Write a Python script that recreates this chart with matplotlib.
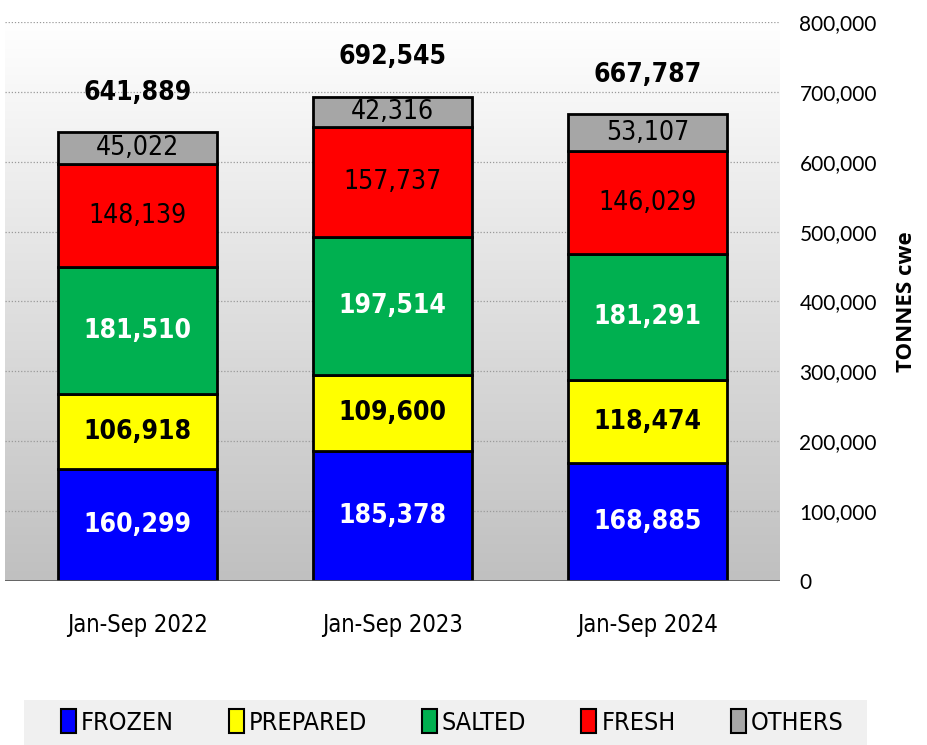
import matplotlib
matplotlib.use("Agg")
import matplotlib.pyplot as plt
import numpy as np
from matplotlib.patches import Patch, Rectangle
from matplotlib.font_manager import FontProperties
from matplotlib.colors import LinearSegmentedColormap

categories = ["Jan-Sep 2022", "Jan-Sep 2023", "Jan-Sep 2024"]
frozen = [160299, 185378, 168885]
prepared = [106918, 109600, 118474]
salted = [181510, 197514, 181291]
fresh = [148139, 157737, 146029]
others = [45022, 42316, 53107]
totals = [641889, 692545, 667787]

series_names = ["FROZEN", "PREPARED", "SALTED", "FRESH", "OTHERS"]
series = [frozen, prepared, salted, fresh, others]
colors = ["#0000ff", "#ffff00", "#00b050", "#ff0000", "#a6a6a6"]
label_colors = ["white", "black", "white", "black", "black"]
label_weights = ["bold", "bold", "bold", "normal", "normal"]

yticks = [0, 100000, 200000, 300000, 400000, 500000, 600000, 700000, 800000]

narrow = ["Liberation Sans Narrow", "DejaVu Sans"]
STR = "condensed"
fig = plt.figure(figsize=(9.28, 7.45), dpi=100)
ax = fig.add_axes([5/928, 1-581/745, (780-5)/928, (581-22)/745])

x = np.arange(len(categories))
ax.set_xlim(-0.52, 2.52)
ax.set_ylim(0, 800000)

grad = np.linspace(0.0, 1.0, 256).reshape(-1, 1)
cmap = LinearSegmentedColormap.from_list("g", ["#c0c0c0", "#ffffff"])
ax.imshow(grad, extent=[-0.52, 2.52, 0, 800000], aspect="auto", cmap=cmap,
          origin="lower", zorder=0, vmin=0, vmax=1)

for yv in yticks[1:]:
    ax.axhline(yv, color="#9a9a9a", linestyle=(0, (1, 1.5)), linewidth=0.9, zorder=1)
ax.axhline(0, color="#555555", linewidth=1.2, zorder=4)

bottom = np.zeros(len(categories))
for name, vals, c, lc, lw in zip(series_names, series, colors, label_colors, label_weights):
    vals = np.array(vals, dtype=float)
    ax.bar(x, vals, width=0.627, bottom=bottom, color=c, edgecolor="black",
           linewidth=2, zorder=3, label=name)
    for xi, b, v in zip(x, bottom, vals):
        ax.text(xi, b + v / 2, f"{int(v):,}", ha="center", va="center",
                color=lc, fontsize=19, fontweight=lw, family=narrow, fontstretch=STR, zorder=5)
    bottom += vals

for xi, t in zip(x, totals):
    ax.text(xi, t + 57000, f"{t:,}", ha="center", va="center", fontsize=19,
            fontweight="bold", family=narrow, fontstretch=STR, zorder=5)

ax.set_xticks(x)
ax.set_xticklabels(categories, fontsize=17, family=narrow, fontstretch=STR)
ax.tick_params(axis="x", length=0, pad=23)
ax.yaxis.tick_right()
ax.set_yticks(yticks)
ax.set_yticklabels([f"{v:,}" for v in yticks], fontsize=15, family="Lato")
ax.tick_params(axis="y", length=0, pad=14)
ax.yaxis.set_label_position("right")
ax.set_ylabel("TONNES cwe", fontsize=16, fontweight="bold", family="Open Sans", labelpad=14)

for s in ax.spines.values():
    s.set_visible(False)

fig.patches.append(Rectangle((24/928, 0), (867-24)/928, 45/745, transform=fig.transFigure,
                             facecolor="#f0f0f0", edgecolor="none", zorder=0))
handles = [Patch(facecolor=c, edgecolor="black", linewidth=1.5) for c in colors]
leg = fig.legend(handles, series_names, loc="center", bbox_to_anchor=(452/928, 1-722/745),
                 ncol=5, frameon=False,
                 prop=FontProperties(family=narrow, size=18, stretch=STR),
                 handlelength=0.6, handleheight=1.1, handletextpad=0.2, columnspacing=2.2,
                 borderpad=0.4)

fig.savefig("out.png", dpi=100)
